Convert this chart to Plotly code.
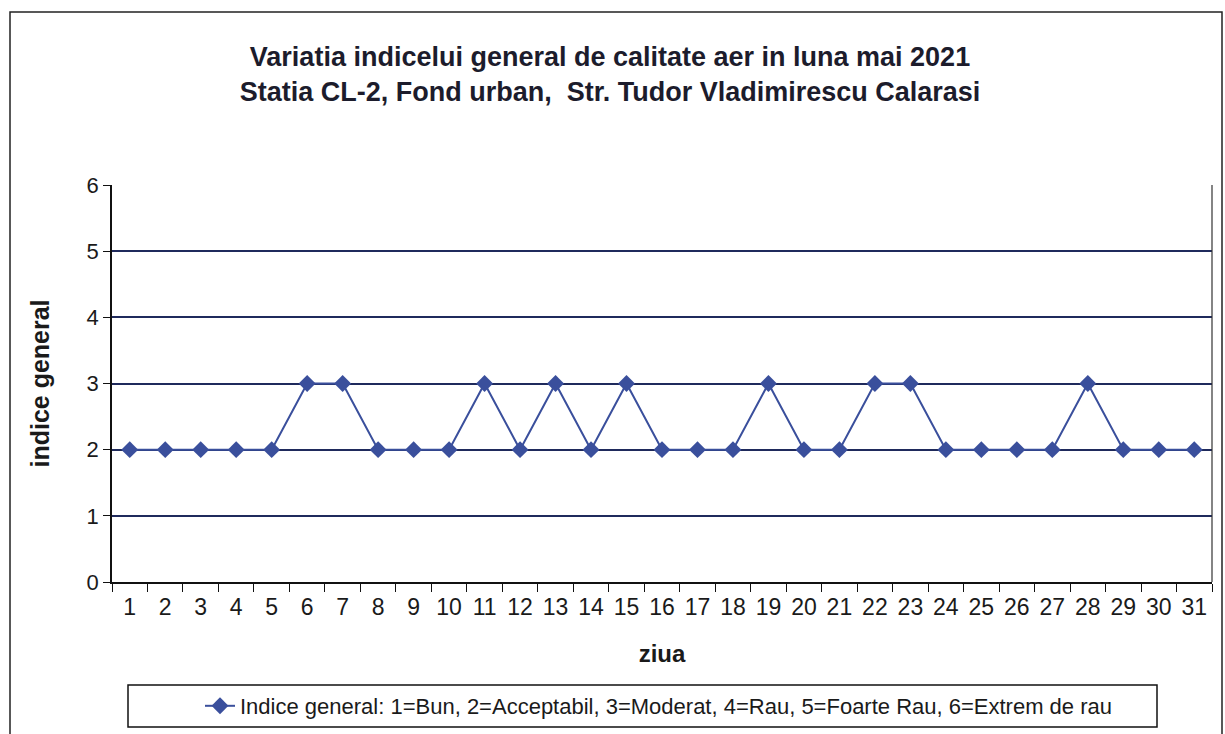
import plotly.graph_objects as go

days = [str(d) for d in range(1, 32)]
values = [2, 2, 2, 2, 2, 3, 3, 2, 2, 2, 3, 2, 3, 2, 3, 2, 2, 2, 3, 2, 2, 3, 3, 2, 2, 2, 2, 3, 2, 2, 2]
y_ticks = [0, 1, 2, 3, 4, 5, 6]

title_text = ("<b>Variatia indicelui general de calitate aer in luna mai 2021<br>"
              "Statia CL-2, Fond urban,  Str. Tudor Vladimirescu Calarasi</b>")
series_name = "Indice general: 1=Bun, 2=Acceptabil, 3=Moderat, 4=Rau, 5=Foarte Rau, 6=Extrem de rau"

fig = go.Figure()
fig.add_trace(go.Scatter(
    x=days, y=values, mode="lines+markers", name=series_name,
    line=dict(color="#3a4f9c", width=2),
    marker=dict(symbol="diamond", size=13, color="#3a4f9c"),
))

W, H = 1225, 734
L, R, T, B = 112, 13, 185, 152
pw, ph = W - L - R, H - T - B

def px(xp):
    return (xp - L) / pw

def py(yp):
    return (H - B - yp) / ph

fig.update_layout(
    width=W, height=H,
    margin=dict(l=L, r=R, t=T, b=B, autoexpand=False),
    paper_bgcolor="white", plot_bgcolor="white",
    font=dict(family="Liberation Sans, Arial", color="#1a1a1a"),
    title=dict(text=title_text, x=610 / W, xanchor="center", y=1 - 72 / H, yanchor="middle",
               font=dict(size=27, color="#1c1c2c")),
    showlegend=True,
    legend=dict(x=px(200), xanchor="left", y=py(706), yanchor="middle", orientation="h",
                font=dict(family="Liberation Sans, Arial", size=22, color="#1a1a1a"),
                bgcolor="rgba(0,0,0,0)", borderwidth=0),
    shapes=[
        dict(type="rect", xref="paper", yref="paper", x0=px(128), x1=px(1157), y0=py(727), y1=py(685),
             line=dict(color="#111", width=1.5)),
        dict(type="rect", xref="paper", yref="paper", x0=px(10), x1=px(1222), y0=py(760), y1=py(12),
             line=dict(color="#222", width=1.5)),
        dict(type="line", xref="paper", yref="paper", x0=1, x1=1, y0=0, y1=1,
             line=dict(color="#333", width=1.2)),
    ],
)

fig.update_xaxes(
    type="category", range=[-0.5, 30.5], tickson="boundaries", ticks="outside", ticklen=8,
    tickcolor="#111", showline=True, linecolor="#111", linewidth=1.5, ticklabelstandoff=4,
    showgrid=False, tickfont=dict(size=23, color="#1a1a1a"),
    title=dict(text="<b>ziua</b>", font=dict(size=24, color="#1a1a1a"), standoff=26),
)
fig.update_yaxes(
    range=[0, 6], tickvals=y_ticks, ticks="outside", ticklen=7, tickcolor="#111",
    showline=True, linecolor="#111", linewidth=1.5,
    showgrid=True, gridcolor="#1f2a5c", gridwidth=1.5, zeroline=False,
    tickfont=dict(size=22, color="#1a1a1a"),
    title=dict(text="<b>indice general</b>", font=dict(size=25, color="#1a1a1a"), standoff=30),
)
fig.update_layout(title_y=1 - 66 / H)

fig.write_html("out.html", config={"displayModeBar": False},
               post_script="document.body.style.margin='0';document.body.style.overflow='hidden';")
